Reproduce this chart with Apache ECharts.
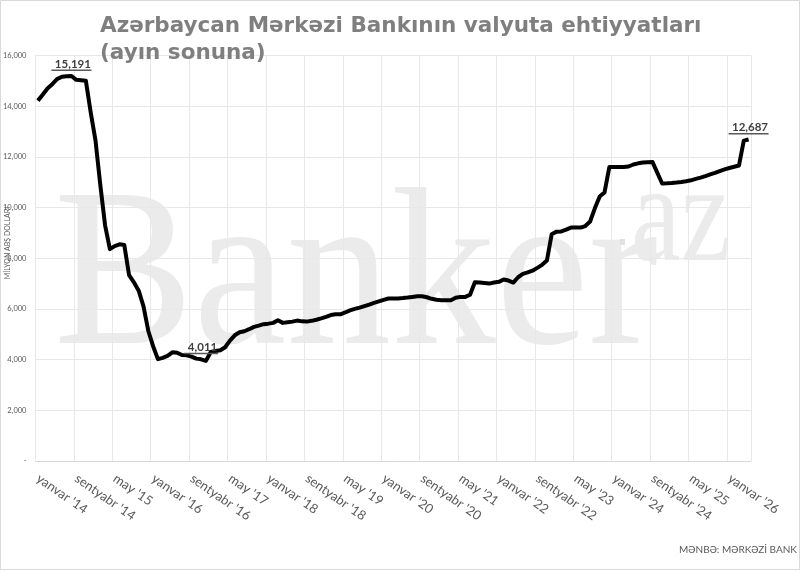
<!DOCTYPE html>
<html>
<head>
<meta charset="utf-8">
<script src="https://cdn.jsdelivr.net/npm/echarts@6/dist/echarts.min.js"></script>
<style>
  html, body { margin: 0; padding: 0; background: #fff; }
  #chart { width: 800px; height: 570px; }
</style>
</head>
<body>
<div id="chart"></div>
<script>
// ---- data ----
const monthNames = ['yanvar','fevral','mart','aprel','may','iyun','iyul','avqust','sentyabr','oktyabr','noyabr','dekabr'];
const startYear = 14; // 2014
const reserves = [
  14220, 14450, 14700, 14870, 15070, 15160, 15180, 15191, 15040, 15020,
  15000, 13760, 12650, 10900, 9300, 8360, 8480, 8550, 8520, 7330,
  7050, 6720, 6100, 5130, 4530, 4020, 4070, 4150, 4290, 4270,
  4180, 4170, 4120, 4040, 4011, 3950, 4300, 4340, 4370, 4490,
  4750, 4960, 5080, 5120, 5200, 5290, 5340, 5400, 5420, 5450,
  5550, 5450, 5475, 5500, 5540, 5510, 5500, 5530, 5575, 5630,
  5690, 5760, 5790, 5790, 5860, 5940, 6000, 6050, 6110, 6170,
  6240, 6300, 6360, 6410, 6410, 6415, 6430, 6450, 6475, 6500,
  6500, 6460, 6400, 6360, 6345, 6345, 6345, 6440, 6475, 6475,
  6560, 7050, 7040, 7020, 7000, 7040, 7070, 7160, 7120, 7040,
  7250, 7380, 7440, 7510, 7620, 7740, 7910, 8950, 9050, 9060,
  9130, 9210, 9210, 9210, 9270, 9450, 9980, 10440, 10600, 11600,
  11600, 11600, 11600, 11620, 11700, 11745, 11775, 11785, 11795, 11370,
  10950, 10955, 10965, 10985, 11010, 11040, 11075, 11130, 11180, 11240,
  11310, 11370, 11440, 11505, 11560, 11610, 11660, 12640, 12687
];
const categories = reserves.map((_, i) =>
  monthNames[i % 12] + " '" + String(startYear + Math.floor(i / 12)).padStart(2, '0'));
const labelledIndices = [7, 34, 148];
const labelUnderlineWidths = [40, 34, 40];
const yTickLabels = ['-', '2,000', '4,000', '6,000', '8,000', '10,000', '12,000', '14,000', '16,000'];
const titleText = 'Azərbaycan Mərkəzi Bankının valyuta ehtiyyatları\n(ayın sonuna)';
const yAxisTitle = 'MİLYON ABŞ DOLLARI';
const sourceText = 'MƏNBƏ: MƏRKƏZİ BANK';
const watermarkMain = 'Banker';
const watermarkSup = 'az';

// ---- chart ----
const fmt = v => v.toLocaleString('en-US');
const seriesData = reserves.map((v, i) => {
  const k = labelledIndices.indexOf(i);
  if (k < 0) return v;
  return {
    value: v,
    label: {
      show: true,
      position: 'top',
      distance: 5,
      formatter: p => '{t| ' + fmt(p.value) + '}\n{u|}',
      rich: {
        t: { fontFamily: 'Lato', fontWeight: 'bold', fontSize: 11.5, color: '#404040', lineHeight: 11, align: 'center' },
        u: { width: labelUnderlineWidths[k], height: 1.5, backgroundColor: '#595959', align: 'center' }
      }
    }
  };
});

const chart = echarts.init(document.getElementById('chart'), null, { renderer: 'canvas' });
chart.setOption({
  animation: false,
  backgroundColor: '#ffffff',
  title: {
    text: titleText,
    left: 95,
    top: 8,
    textStyle: { fontFamily: 'DejaVu Sans', fontWeight: 'bold', fontSize: 21.5, color: '#7f7f7f', lineHeight: 27 }
  },
  grid: { left: 35, right: 49, top: 55.5, bottom: 109 },
  xAxis: {
    type: 'category',
    data: categories,
    boundaryGap: true,
    axisLine: { show: true, lineStyle: { color: '#d9d9d9', width: 1 } },
    axisTick: { show: false },
    axisLabel: { interval: 7, rotate: -35, color: '#595959', fontFamily: 'Lato', fontSize: 13, margin: 16 },
    splitLine: { show: true, interval: 7, lineStyle: { color: '#e8e8e8', width: 1 } }
  },
  yAxis: {
    type: 'value',
    min: 0, max: 16000, interval: 2000,
    axisLine: { show: false },
    axisTick: { show: false },
    axisLabel: { formatter: v => yTickLabels[Math.round(v / 2000)], color: '#595959', fontFamily: 'Lato', fontSize: 7.5, margin: 9 },
    splitLine: { show: true, lineStyle: { color: '#e8e8e8', width: 1 } }
  },
  graphic: [
    { type: 'rect', z: -10, silent: true, shape: { x: 0.5, y: 0.5, width: 799, height: 569 }, style: { fill: 'none', stroke: '#d9d9d9', lineWidth: 1 } },
    { type: 'text', z: -5, silent: true, x: 54, y: 284, scaleX: 0.93,
      style: { text: watermarkMain, font: '225px "Liberation Serif"', fill: '#ebebeb', textAlign: 'left', textVerticalAlign: 'middle' } },
    { type: 'rect', z: -5, silent: true, shape: { x: 620, y: 239, width: 5, height: 6 }, style: { fill: '#e2e2e2' } },
    { type: 'text', z: -5, silent: true, x: 631, y: 223, scaleX: 0.8,
      style: { text: watermarkSup, font: '140px "Liberation Serif"', fill: '#ebebeb', textAlign: 'left', textVerticalAlign: 'middle' } },
    { type: 'text', silent: true, x: 8, y: 243, rotation: Math.PI / 2,
      style: { text: yAxisTitle, font: '7px Lato', fill: '#595959', textAlign: 'center', textVerticalAlign: 'middle' } },
    { type: 'text', silent: true, x: 797, y: 550,
      style: { text: sourceText, font: '10px Lato', fill: '#595959', textAlign: 'right', textVerticalAlign: 'middle' } }
  ],
  series: [{
    type: 'line',
    data: seriesData,
    symbol: 'circle',
    symbolSize: 0.1,
    showSymbol: true,
    itemStyle: { color: '#000' },
    lineStyle: { color: '#000', width: 4, join: 'round' },
    z: 5
  }]
});
</script>
</body>
</html>
